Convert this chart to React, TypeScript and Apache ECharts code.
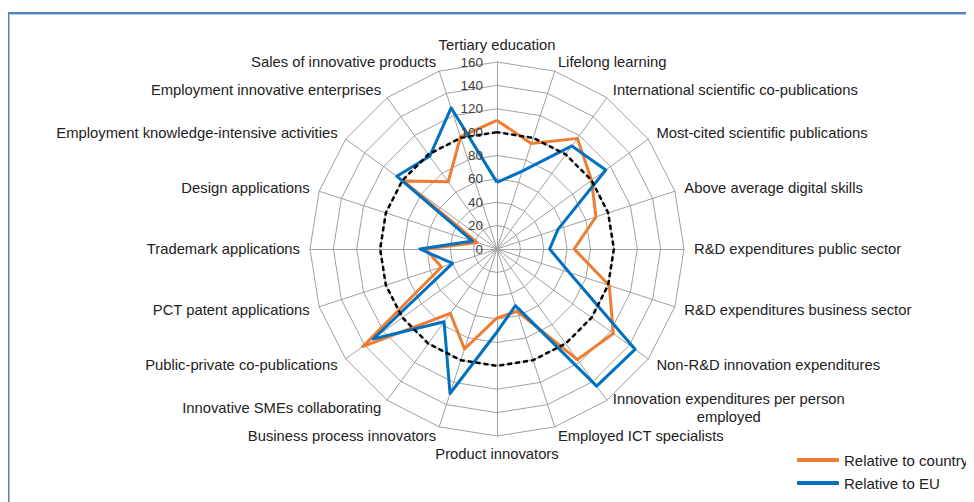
import React, { useEffect, useRef } from 'react';
import * as echarts from 'echarts';

// Indicators in clockwise order, starting at the top
const categories = [
  'Tertiary education',
  'Lifelong learning',
  'International scientific co-publications',
  'Most-cited scientific publications',
  'Above average digital skills',
  'R&D expenditures public sector',
  'R&D expenditures business sector',
  'Non-R&D innovation expenditures',
  'Innovation expenditures per person employed',
  'Employed ICT specialists',
  'Product innovators',
  'Business process innovators',
  'Innovative SMEs collaborating',
  'Public-private co-publications',
  'PCT patent applications',
  'Trademark applications',
  'Design applications',
  'Employment knowledge-intensive activities',
  'Employment innovative enterprises',
  'Sales of innovative products',
];

const relativeToCountry = [110, 95, 117, 100, 89, 66, 101, 123, 117, 56, 59, 90, 68, 142, 50, 61, 18, 99, 71, 101];
const relativeToEU = [57, 70, 109, 115, 55, 45, 65, 146, 145, 51, 71, 130, 77, 131, 40, 66, 22, 106, 98, 127];
const referenceLine = [100, 100, 100, 100, 100, 100, 100, 100, 100, 100, 100, 100, 100, 100, 100, 100, 100, 100, 100, 100];

const radialTicks = [0, 20, 40, 60, 80, 100, 120, 140, 160];
const legendNames = ['Relative to country', 'Relative to EU'];

const FONT = '"Liberation Sans", Arial, sans-serif';

// the container sits inside the body's 8px margin
const OFF = 8;

export default function App() {
  const ref = useRef<HTMLDivElement>(null);

  useEffect(() => {
    if (!ref.current) return;
    const chart = echarts.init(ref.current, undefined, { renderer: 'svg' });

    // ECharts radar places indicators counter-clockwise; reorder to get clockwise layout
    const order = [0, ...categories.map((_, i) => i).slice(1).reverse()];
    const pick = (arr: number[]) => order.map((i) => arr[i]);
    const tMin = radialTicks[0];
    const tMax = radialTicks[radialTicks.length - 1];
    const tStep = radialTicks[1] - radialTicks[0];

    const indicator = order.map((i) => ({ name: categories[i], min: tMin, max: tMax }));
    const cx = 497 - OFF;
    const cy = 249 - OFF;

    chart.setOption({
      animation: false,
      backgroundColor: '#ffffff',
      tooltip: { show: false },
      graphic: [
        {
          type: 'rect',
          silent: true,
          shape: { x: 8.5 - OFF, y: 13 - OFF, width: 1000, height: 600 },
          style: { fill: 'none', stroke: '#4f81bd', lineWidth: 2 },
        },
        {
          type: 'line',
          silent: true,
          shape: { x1: 10 - OFF, y1: 14.5 - OFF, x2: 1000, y2: 14.5 - OFF },
          style: { stroke: '#b8cce4', lineWidth: 1 },
        },
      ],
      radar: {
        center: [cx, cy],
        radius: 187,
        startAngle: 90,
        splitNumber: (tMax - tMin) / tStep,
        shape: 'polygon',
        nameGap: 10,
        indicator,
        axisName: {
          color: '#222222',
          fontSize: 14.8,
          fontFamily: FONT,
          formatter: (name: string) => {
            if (name === 'Innovation expenditures per person employed') {
              return '{c|Innovation expenditures per person}\n{c|employed}';
            }
            return name;
          },
          rich: {
            c: { align: 'center', color: '#222222', fontSize: 14.8, fontFamily: FONT, lineHeight: 18 },
          },
        },
        splitLine: { lineStyle: { color: '#a0a0a0', width: 1 } },
        splitArea: { show: false },
        axisLine: { lineStyle: { color: '#a0a0a0', width: 1 } },
        axisTick: { show: false },
        axisLabel: { show: false },
      },
      polar: { center: [cx, cy], radius: 187 },
      angleAxis: { type: 'value', min: 0, max: 360, startAngle: 90, show: false },
      radiusAxis: {
        type: 'value',
        min: tMin,
        max: tMax,
        interval: tStep,
        axisLine: { show: false },
        axisTick: { show: false },
        splitLine: { show: false },
        axisLabel: { color: '#404040', fontSize: 13.5, fontFamily: FONT, margin: 14 },
        z: 10,
      },
      legend: {
        orient: 'vertical',
        left: 792 - OFF,
        top: 447 - OFF,
        itemWidth: 42,
        itemHeight: 4,
        itemGap: 7,
        icon: 'roundRect',
        data: legendNames,
        selectedMode: false,
        textStyle: { fontSize: 15, color: '#222222', fontFamily: FONT, lineHeight: 16 },
      },
      series: [
        {
          type: 'radar',
          symbol: 'none',
          silent: true,
          z: 3,
          data: [
            {
              name: legendNames[0],
              value: pick(relativeToCountry),
              lineStyle: { color: '#ed7d31', width: 3 },
              itemStyle: { color: '#ed7d31' },
            },
          ],
        },
        {
          type: 'radar',
          symbol: 'none',
          silent: true,
          z: 4,
          data: [
            {
              name: legendNames[1],
              value: pick(relativeToEU),
              lineStyle: { color: '#0070c0', width: 3 },
              itemStyle: { color: '#0070c0' },
            },
          ],
        },
        {
          type: 'radar',
          symbol: 'none',
          silent: true,
          z: 5,
          data: [
            {
              name: 'EU = 100',
              value: pick(referenceLine),
              lineStyle: { color: '#000000', width: 2.5, type: [5, 3] },
              itemStyle: { color: '#000000' },
            },
          ],
        },
      ],
    });

    return () => chart.dispose();
  }, []);

  return (
    <div
      ref={ref}
      style={{ width: 974 - OFF, height: 502 - OFF, background: '#ffffff' }}
    />
  );
}
